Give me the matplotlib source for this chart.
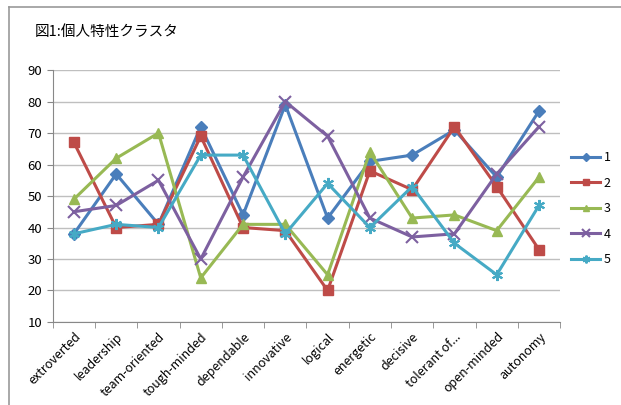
import matplotlib.pyplot as plt
from matplotlib.lines import Line2D

plt.rcParams['font.family'] = ['Noto Sans CJK JP', 'DejaVu Sans']

title = '図1:個人特性クラスタ'
categories = ['extroverted', 'leadership', 'team-oriented', 'tough-minded', 'dependable',
              'innovative', 'logical', 'energetic', 'decisive', 'tolerant of...',
              'open-minded', 'autonomy']
series_names = ['1', '2', '3', '4', '5']
s1 = [38, 57, 41, 72, 44, 79, 43, 61, 63, 71, 56, 77]
s2 = [67, 40, 41, 69, 40, 39, 20, 58, 52, 72, 53, 33]
s3 = [49, 62, 70, 24, 41, 41, 25, 64, 43, 44, 39, 56]
s4 = [45, 47, 55, 30, 56, 80, 69, 43, 37, 38, 57, 72]
s5 = [38, 41, 40, 63, 63, 38, 54, 40, 53, 35, 25, 47]

colors = ['#4A7EBB', '#BE4B48', '#98B954', '#7D60A0', '#46AAC5']
markers = ['D', 's', '^', 'x', (6, 2, 0)]
msizes = [6, 7, 7, 8, 8]

fig = plt.figure(figsize=(6.21, 4.05), dpi=100)
ax = fig.add_axes([0.085, 0.205, 0.817, 0.622])

x = list(range(len(categories)))
for data, name, c, m, ms in zip([s1, s2, s3, s4, s5], series_names, colors, markers, msizes):
    ax.plot(x, data, color=c, marker=m, markersize=ms, linewidth=2.2,
            markeredgewidth=1.5 if m in ('x', (6, 2, 0)) else 1,
            markeredgecolor=c, label=name)

ax.set_xlim(-0.5, len(categories) - 0.5)
ax.set_ylim(10, 90)
ax.set_yticks(range(10, 91, 10))
ax.yaxis.grid(True, color='#bfbfbf', linewidth=1)
ax.set_axisbelow(True)
for side in ['top', 'right']:
    ax.spines[side].set_visible(False)
ax.spines['left'].set_color('#888888')
ax.spines['bottom'].set_color('#888888')
ax.set_xticks(x)
ax.set_xticklabels(categories, rotation=45, ha='right', rotation_mode='anchor', fontsize=9)
ax.tick_params(axis='x', which='major', length=0, pad=6)
ax.set_xticks([i - 0.5 for i in range(len(categories) + 1)], minor=True)
ax.tick_params(axis='x', which='minor', length=4, color='#888888')
ax.tick_params(axis='y', length=4, color='#888888', labelsize=9.5)

ax.legend(loc='center left', bbox_to_anchor=(1.0, 0.45), frameon=False,
          fontsize=9, handlelength=2.3, labelspacing=1.0, handletextpad=0.3,
          markerscale=0.7)

fig.text(0.056, 0.92, title, fontsize=10.5, va='center', ha='left')

# outer chart border
fig.add_artist(Line2D([9 / 621, 1.0], [1 - 7 / 405, 1 - 7 / 405], color='#999999', linewidth=1.2))
fig.add_artist(Line2D([9 / 621, 9 / 621], [0.0, 1 - 7 / 405], color='#999999', linewidth=1.2))

fig.savefig('out.png', dpi=100, facecolor='white')
